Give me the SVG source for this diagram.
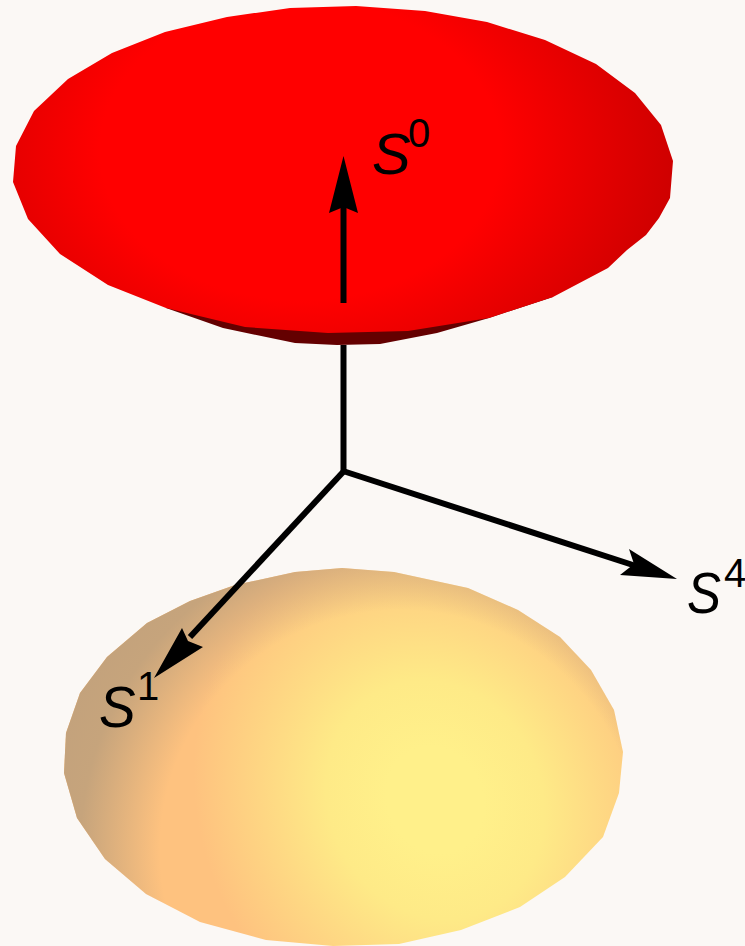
<svg xmlns="http://www.w3.org/2000/svg" width="745" height="946" viewBox="0 0 745 946">
<style>
.ax{fill:none;stroke:#000;stroke-width:6}
.hd{fill:#000}
text{font-family:"Liberation Sans",Arial,sans-serif;fill:#000}
.s{font-size:58px;font-style:italic}
.n{font-size:40px}
</style>
<defs>
<radialGradient id="red" gradientUnits="userSpaceOnUse" cx="0" cy="0" r="1" gradientTransform="translate(300 150) scale(400 300)">
<stop offset="0.5" stop-color="#ff0000"/><stop offset="1" stop-color="#c80000"/>
</radialGradient>
<radialGradient id="yel" gradientUnits="userSpaceOnUse" cx="0" cy="0" r="1" gradientTransform="translate(435 800) rotate(-25) scale(235 270)">
<stop offset="0.2" stop-color="#fff08a"/><stop offset="0.45" stop-color="#feea87"/><stop offset="1" stop-color="#fec27f"/>
</radialGradient>
<radialGradient id="tan" gradientUnits="userSpaceOnUse" cx="400" cy="850" r="400">
<stop offset="0.6" stop-color="#c4a27c" stop-opacity="0"/><stop offset="0.8" stop-color="#c6a47c"/><stop offset="1" stop-color="#c0a07c"/>
</radialGradient>
<polygon id="yshape" points="342,568 394,572 468,588 518,610 560,637 591,670 614,710 623,752 619,793 603,837 565,877 520,907 461,930 399,944 333,946 266,940 200,922 146,894 105,859 77,818 64,773 66,733 80,693 107,657 147,623 190,601 235,585 295,572"/>
</defs>
<rect width="745" height="946" fill="#fbf8f5"/>
<g id="yellow-cap">
<use href="#yshape" fill="url(#yel)"/>
<use href="#yshape" fill="url(#tan)"/>
</g>
<g id="red-cap">
<polygon fill="#640000" points="166,308 223,328 295,343 337,345 380,344 437,333 489,318 553,297 400,300 250,300"/>
<polygon fill="url(#red)" points="356,6 425,11 487,22 545,40 596,64 635,93 661,125 673,161 670,198 659,218 646,235 627,250 608,268 553,297 489,318 408,331 328,333 245,327 166,308 108,285 60,254 28,219 13,182 16,146 34,111 68,79 112,53 165,32 227,17 290,8"/>
</g>
<g id="connectors">
<path class="ax" d="M343.500 345V471"/>
<path class="ax" d="M343.500 303V205"/>
<polygon class="hd" points="343.500,156 329,213 343.500,207 358,213"/>
<path class="ax" d="M344 471L190 637"/>
<polygon class="hd" points="154,678 182,628 188,641 203,647"/>
<path class="ax" d="M343 471L636 566"/>
<polygon class="hd" points="677,579 629,549 634,564 620,575"/>
</g>
<g id="label-s0"><text class="s" x="372" y="174">S</text><text class="n" x="408" y="147">0</text></g>
<g id="label-s1"><text class="s" transform="translate(99 727) scale(.95 1)">S</text><text class="n" x="137" y="700">1</text></g>
<g id="label-s4"><text class="s" transform="translate(687 613) scale(.88 1)">S</text><text class="n" x="724" y="587">4</text></g>
</svg>
